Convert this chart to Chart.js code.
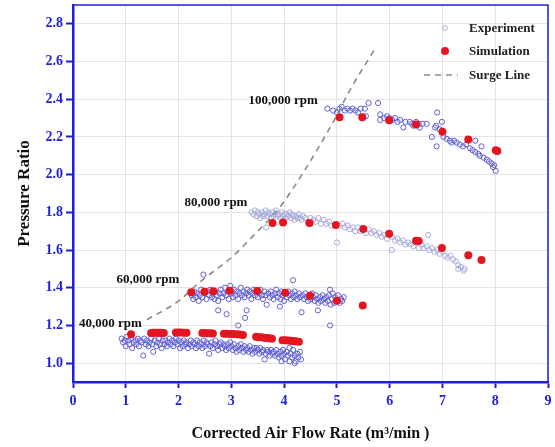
<!DOCTYPE html>
<html>
<head>
<meta charset="utf-8">
<script src="https://cdn.jsdelivr.net/npm/chart.js@4/dist/chart.umd.min.js"></script>
<style>
  html, body { margin: 0; padding: 0; background: #fff; }
  #wrap { width: 555px; height: 447px; }
</style>
</head>
<body>
<div id="wrap"><canvas id="c" width="555" height="447"></canvas></div>
<script>
// Axis ticks
const xTicks = [0, 1, 2, 3, 4, 5, 6, 7, 8, 9];
const yTicks = [1.0, 1.2, 1.4, 1.6, 1.8, 2.0, 2.2, 2.4, 2.6, 2.8];

// Speed-line captions
const speedLabels = ['40,000 rpm', '60,000 rpm', '80,000 rpm', '100,000 rpm'];
const legendLabels = ['Experiment', 'Simulation', 'Surge Line'];

// Measured points, [flow rate, pressure ratio]
const exp40k = [
  [0.92,1.13],[0.95,1.11],[0.98,1.12],[1.0,1.09],[1.02,1.14],[1.05,1.12],[1.07,1.10],[1.1,1.13],[1.12,1.08],[1.15,1.11],
  [1.18,1.12],[1.2,1.10],[1.23,1.13],[1.25,1.09],[1.28,1.12],[1.3,1.11],[1.33,1.04],[1.35,1.13],[1.38,1.10],[1.4,1.12],
  [1.43,1.09],[1.45,1.11],[1.48,1.13],[1.5,1.10],[1.52,1.06],[1.55,1.12],[1.58,1.09],[1.6,1.11],[1.63,1.13],[1.65,1.10],
  [1.68,1.08],[1.7,1.12],[1.73,1.10],[1.75,1.12],[1.78,1.09],[1.8,1.11],[1.83,1.13],[1.85,1.10],[1.88,1.12],[1.9,1.09],
  [1.93,1.11],[1.95,1.13],[1.98,1.10],[2.0,1.12],[2.03,1.08],[2.05,1.11],[2.08,1.09],[2.1,1.12],[2.13,1.10],[2.15,1.11],
  [2.18,1.08],[2.2,1.10],[2.23,1.12],[2.25,1.09],[2.28,1.11],[2.3,1.10],[2.33,1.08],[2.35,1.12],[2.38,1.09],[2.4,1.11],
  [2.43,1.10],[2.45,1.08],[2.48,1.12],[2.5,1.09],[2.53,1.11],[2.55,1.10],[2.58,1.05],[2.6,1.09],[2.63,1.11],[2.65,1.08],
  [2.68,1.10],[2.7,1.12],[2.73,1.09],[2.75,1.07],[2.78,1.10],[2.8,1.11],[2.83,1.08],[2.85,1.10],[2.88,1.09],[2.9,1.07],
  [2.93,1.10],[2.95,1.08],[2.98,1.11],[3.0,1.09],[3.03,1.07],[3.05,1.10],[3.08,1.08],[3.1,1.06],[3.13,1.09],[3.15,1.07],
  [3.18,1.10],[3.2,1.08],[3.23,1.06],[3.25,1.09],[3.28,1.07],[3.3,1.08],[3.33,1.06],[3.35,1.09],[3.38,1.07],[3.4,1.05],
  [3.43,1.08],[3.45,1.06],[3.48,1.08],[3.5,1.07],[3.53,1.05],[3.55,1.08],[3.58,1.06],[3.6,1.07],[3.63,1.02],[3.65,1.05],
  [3.68,1.07],[3.7,1.06],[3.73,1.04],[3.75,1.07],[3.78,1.05],[3.8,1.06],[3.83,1.04],[3.85,1.07],[3.88,1.05],[3.9,1.03],
  [3.93,1.06],[3.95,1.04],[3.98,1.07],[4.0,1.05],[4.02,1.02],[4.05,1.06],[4.07,1.04],[4.1,1.01],[4.12,1.05],[4.15,1.03],
  [4.17,1.07],[4.2,1.04],[4.22,1.01],[4.25,1.05],[4.27,1.03],[4.3,1.06],[4.32,1.02],[4.1,1.08],[4.2,1.00],[3.95,1.01]
];
const exp60k = [
  [2.25,1.36],[2.28,1.34],[2.3,1.38],[2.33,1.35],[2.35,1.37],[2.38,1.33],[2.4,1.36],[2.43,1.39],[2.45,1.35],[2.47,1.47],
  [2.5,1.37],[2.53,1.34],[2.55,1.38],[2.58,1.36],[2.6,1.39],[2.63,1.35],[2.65,1.37],[2.68,1.34],[2.7,1.38],[2.72,1.36],
  [2.75,1.33],[2.75,1.28],[2.78,1.37],[2.8,1.39],[2.83,1.35],[2.85,1.37],[2.88,1.40],[2.9,1.36],[2.91,1.26],[2.93,1.38],
  [2.95,1.34],[2.98,1.41],[3.0,1.37],[3.03,1.35],[3.05,1.39],[3.08,1.36],[3.1,1.38],[3.13,1.34],[3.15,1.37],[3.18,1.40],
  [3.2,1.36],[3.23,1.38],[3.26,1.24],[3.25,1.35],[3.28,1.37],[3.29,1.28],[3.3,1.39],[3.33,1.36],[3.35,1.38],[3.38,1.34],
  [3.4,1.37],[3.43,1.39],[3.45,1.36],[3.48,1.38],[3.5,1.35],[3.53,1.37],[3.55,1.39],[3.58,1.36],[3.6,1.34],[3.63,1.38],
  [3.65,1.36],[3.67,1.31],[3.7,1.37],[3.73,1.35],[3.75,1.38],[3.78,1.36],[3.8,1.34],[3.83,1.37],[3.85,1.39],[3.88,1.35],
  [3.9,1.37],[3.92,1.30],[3.93,1.34],[3.95,1.38],[3.98,1.36],[4.0,1.33],[4.03,1.37],[4.05,1.35],[4.08,1.38],[4.1,1.36],
  [4.13,1.34],[4.17,1.44],[4.15,1.37],[4.18,1.35],[4.2,1.38],[4.23,1.36],[4.25,1.34],[4.28,1.37],[4.3,1.35],[4.33,1.27],
  [4.35,1.36],[4.38,1.34],[4.4,1.37],[4.43,1.35],[4.45,1.33],[4.48,1.36],[4.5,1.34],[4.53,1.37],[4.55,1.35],[4.58,1.33],
  [4.6,1.36],[4.63,1.34],[4.64,1.28],[4.65,1.32],[4.68,1.35],[4.7,1.33],[4.73,1.36],[4.75,1.34],[4.78,1.32],[4.8,1.35],
  [4.83,1.33],[4.85,1.36],[4.87,1.39],[4.87,1.20],[4.88,1.31],[4.9,1.34],[4.92,1.37],[4.95,1.32],[4.97,1.35],[5.0,1.33],
  [5.02,1.36],[5.05,1.32],[5.08,1.34],[5.1,1.33],[5.13,1.35],[3.13,1.20]
];
const exp80k = [
  [3.38,1.80],[3.42,1.79],[3.45,1.81],[3.48,1.78],[3.5,1.80],[3.53,1.79],[3.55,1.77],[3.58,1.80],[3.6,1.78],[3.63,1.79],
  [3.66,1.72],[3.65,1.81],[3.68,1.78],[3.7,1.80],[3.73,1.79],[3.75,1.77],[3.78,1.80],[3.8,1.78],[3.83,1.79],[3.85,1.81],
  [3.88,1.78],[3.9,1.79],[3.93,1.77],[3.95,1.80],[3.98,1.78],[4.0,1.79],[4.03,1.77],[4.05,1.79],[4.08,1.78],[4.1,1.80],
  [4.13,1.77],[4.15,1.79],[4.18,1.78],[4.2,1.76],[4.23,1.78],[4.25,1.77],[4.28,1.79],[4.3,1.77],[4.33,1.76],[4.36,1.78],
  [4.4,1.77],[4.45,1.75],[4.5,1.77],[4.55,1.76],[4.6,1.75],[4.65,1.77],[4.7,1.74],[4.75,1.76],[4.8,1.74],[4.85,1.75],
  [4.9,1.73],[5.0,1.64],[5.05,1.73],[5.1,1.74],[5.15,1.72],[5.2,1.73],[5.25,1.71],[5.3,1.72],[5.35,1.70],[5.4,1.72],
  [5.45,1.70],[5.5,1.71],[5.55,1.69],[5.6,1.71],[5.65,1.69],[5.7,1.70],[5.75,1.68],[5.8,1.69],[5.85,1.67],[5.9,1.68],
  [5.95,1.66],[6.0,1.68],[6.04,1.60],[6.05,1.67],[6.1,1.65],[6.15,1.66],[6.2,1.64],[6.25,1.65],[6.3,1.63],[6.35,1.64],
  [6.4,1.63],[6.45,1.62],[6.5,1.64],[6.55,1.61],[6.6,1.63],[6.65,1.61],[6.7,1.62],[6.73,1.68],[6.75,1.60],[6.8,1.61],
  [6.85,1.59],[6.9,1.60],[6.95,1.58],[7.0,1.59],[7.05,1.57],[7.1,1.56],[7.15,1.57],[7.2,1.55],[7.25,1.54],[7.3,1.52],
  [7.35,1.51],[7.4,1.49],[7.42,1.50],[7.3,1.50]
];
const exp100k = [
  [4.82,2.35],[4.93,2.34],[5.0,2.33],[5.05,2.35],[5.09,2.36],[5.15,2.34],[5.2,2.35],[5.25,2.34],[5.3,2.35],[5.35,2.34],
  [5.4,2.33],[5.45,2.35],[5.53,2.35],[5.6,2.38],[5.55,2.31],[5.78,2.38],[5.82,2.32],[5.82,2.29],[5.9,2.30],[5.95,2.31],
  [6.0,2.30],[6.05,2.29],[6.1,2.30],[6.15,2.28],[6.2,2.29],[6.26,2.25],[6.3,2.28],[6.38,2.28],[6.42,2.27],[6.45,2.26],
  [6.5,2.28],[6.55,2.27],[6.57,2.25],[6.62,2.27],[6.7,2.27],[6.8,2.20],[6.86,2.25],[6.88,2.26],[6.9,2.33],[6.89,2.15],
  [6.95,2.24],[6.99,2.28],[7.02,2.20],[7.08,2.19],[7.14,2.18],[7.17,2.17],[7.22,2.18],[7.27,2.17],[7.33,2.16],[7.39,2.15],
  [7.45,2.16],[7.52,2.14],[7.57,2.13],[7.62,2.18],[7.62,2.12],[7.68,2.11],[7.71,2.10],[7.74,2.15],[7.78,2.09],[7.84,2.08],
  [7.88,2.07],[7.93,2.06],[7.96,2.04],[7.98,2.05],[8.01,2.02]
];

// CFD results, [flow rate, pressure ratio]
const sim40k = [
  [1.10,1.153],
  [1.48,1.160],[1.52,1.161],[1.56,1.161],[1.60,1.161],[1.64,1.161],[1.68,1.160],[1.72,1.160],
  [1.95,1.162],[2.00,1.162],[2.05,1.162],[2.10,1.161],[2.15,1.161],
  [2.45,1.160],[2.50,1.160],[2.55,1.159],[2.60,1.158],[2.65,1.157],
  [2.86,1.156],[2.92,1.156],[2.98,1.155],[3.04,1.154],[3.10,1.153],[3.16,1.152],[3.22,1.150],
  [3.47,1.140],[3.52,1.138],[3.57,1.137],[3.62,1.135],[3.67,1.134],[3.72,1.132],[3.77,1.130],
  [3.97,1.122],[4.02,1.121],[4.07,1.120],[4.12,1.119],[4.17,1.118],[4.22,1.116],[4.28,1.114]
];
const sim60k = [[2.24,1.376],[2.49,1.379],[2.66,1.382],[2.97,1.384],[3.49,1.383],[4.02,1.373],[4.49,1.357],[5.00,1.331],[5.49,1.306]];
const sim80k = [[3.78,1.744],[3.98,1.746],[4.48,1.744],[4.98,1.733],[5.50,1.712],[5.99,1.686],[6.50,1.650],[6.55,1.648],[6.99,1.611],[7.49,1.572],[7.74,1.547]];
const sim100k = [[5.05,2.304],[5.48,2.304],[5.99,2.288],[6.50,2.266],[7.00,2.228],[7.49,2.186],[8.01,2.130],[8.04,2.126]];

// Surge boundary
const surgeLine = [[1.40,1.23],[2.00,1.33],[2.40,1.43],[3.00,1.56],[3.50,1.70],[3.90,1.82],[4.36,2.01],[4.93,2.28],[5.25,2.45],[5.75,2.68]];

const toXY = arr => arr.map(p => ({ x: p[0], y: p[1] }));

const AXIS_BLUE = '#1f1fd6';
const EXP_BLUE = '#5f5fd6';
const EXP_PALE = '#a6abd9';
const SIM_RED = '#e51520';
const GRID = '#e4e4e4';
const SERIF = '"Liberation Serif", "DejaVu Serif", serif';

const expStyle = (color) => ({
  pointStyle: 'circle', pointRadius: 2.6, pointBorderWidth: 1,
  pointBackgroundColor: 'rgba(0,0,0,0)', pointBorderColor: color, showLine: false
});
const simStyle = { pointStyle: 'circle', pointRadius: 4, pointBorderWidth: 0, pointBackgroundColor: SIM_RED, pointBorderColor: SIM_RED, showLine: false };

const datasets = [
  Object.assign({ label: 'Simulation', data: toXY(sim40k), order: 1 }, simStyle),
  Object.assign({ label: 'Simulation', data: toXY(sim60k), order: 1 }, simStyle),
  Object.assign({ label: 'Simulation', data: toXY(sim80k), order: 1 }, simStyle),
  Object.assign({ label: 'Simulation', data: toXY(sim100k), order: 1 }, simStyle),
  { label: 'Surge Line', data: toXY(surgeLine), order: 2, showLine: true, pointRadius: 0,
    borderColor: '#8a8a8a', borderWidth: 1.6, borderDash: [6, 5], cubicInterpolationMode: 'monotone', fill: false },
  Object.assign({ label: 'Experiment', data: toXY(exp40k), order: 3 }, expStyle(EXP_BLUE)),
  Object.assign({ label: 'Experiment', data: toXY(exp60k), order: 3 }, expStyle(EXP_BLUE)),
  Object.assign({ label: 'Experiment', data: toXY(exp80k), order: 3 }, expStyle(EXP_PALE)),
  Object.assign({ label: 'Experiment', data: toXY(exp100k), order: 3 }, expStyle(EXP_BLUE))
];

// Frame, speed captions and the legend box
const decorPlugin = {
  id: 'decor',
  afterDraw(chart) {
    const { ctx, chartArea: a, scales: { x, y } } = chart;
    ctx.save();
    // top and right frame
    ctx.strokeStyle = AXIS_BLUE;
    ctx.lineWidth = 1.5;
    ctx.beginPath();
    ctx.moveTo(a.left, a.top);
    ctx.lineTo(a.right, a.top);
    ctx.lineTo(a.right, a.bottom);
    ctx.stroke();

    // speed captions anchored in data units
    const anchors = [[0.71, 1.21], [1.42, 1.441], [2.71, 1.852], [3.98, 2.39]];
    ctx.fillStyle = '#111';
    ctx.font = 'bold 13px ' + SERIF;
    ctx.textAlign = 'center';
    ctx.textBaseline = 'middle';
    speedLabels.forEach((t, i) => {
      ctx.fillText(t, x.getPixelForValue(anchors[i][0]), y.getPixelForValue(anchors[i][1]));
    });

    // legend
    const lx = a.right - 103, tx = a.right - 79;
    const rows = [a.top + 23, a.top + 46, a.top + 70];
    ctx.textAlign = 'left';
    ctx.fillStyle = '#222';
    ctx.font = 'bold 13px ' + SERIF;
    legendLabels.forEach((t, i) => ctx.fillText(t, tx, rows[i] + 1));
    ctx.beginPath();
    ctx.arc(lx, rows[0], 2.4, 0, Math.PI * 2);
    ctx.strokeStyle = EXP_PALE; ctx.lineWidth = 1; ctx.stroke();
    ctx.beginPath();
    ctx.arc(lx, rows[1], 4, 0, Math.PI * 2);
    ctx.fillStyle = SIM_RED; ctx.fill();
    ctx.beginPath();
    ctx.setLineDash([6, 5]);
    ctx.moveTo(lx - 21, rows[2]); ctx.lineTo(lx + 13, rows[2]);
    ctx.strokeStyle = '#8a8a8a'; ctx.lineWidth = 1.6; ctx.stroke();
    ctx.restore();
  }
};

new Chart(document.getElementById('c'), {
  type: 'scatter',
  data: { datasets },
  options: {
    responsive: false,
    animation: false,
    events: [],
    layout: { padding: { left: 0, right: 7, top: 5, bottom: 0 } },
    plugins: { legend: { display: false }, tooltip: { enabled: false } },
    scales: {
      x: {
        type: 'linear', min: 0, max: 9,
        afterBuildTicks: s => { s.ticks = xTicks.map(v => ({ value: v })); },
        afterFit: s => { s.height = 65; s.paddingLeft = 0; s.paddingRight = 0; },
        grid: { color: GRID, lineWidth: 1, tickLength: 6, tickColor: AXIS_BLUE, tickWidth: 2 },
        border: { color: AXIS_BLUE, width: 2.5 },
        ticks: { color: AXIS_BLUE, font: { family: SERIF, size: 14, weight: 'bold' }, padding: 5, callback: v => String(v) },
        title: { display: true, text: 'Corrected Air Flow Rate (m³/min )', color: '#111',
                 font: { family: SERIF, size: 16, weight: 'bold' }, padding: { top: 0, bottom: 4 } }
      },
      y: {
        type: 'linear', min: 0.9, max: 2.9,
        afterBuildTicks: s => { s.ticks = yTicks.map(v => ({ value: v })); },
        afterFit: s => { s.width = 73; s.paddingTop = 0; s.paddingBottom = 0; },
        grid: { color: GRID, lineWidth: 1, tickLength: 7, tickColor: AXIS_BLUE, tickWidth: 2 },
        border: { color: AXIS_BLUE, width: 2.5 },
        ticks: { color: AXIS_BLUE, font: { family: SERIF, size: 14, weight: 'bold' }, padding: 3, callback: v => Number(v).toFixed(1) },
        title: { display: true, text: 'Pressure Ratio', color: '#111',
                 font: { family: SERIF, size: 17, weight: 'bold' }, padding: { top: 14, bottom: 0 } }
      }
    }
  },
  plugins: [decorPlugin]
});
</script>
</body>
</html>
